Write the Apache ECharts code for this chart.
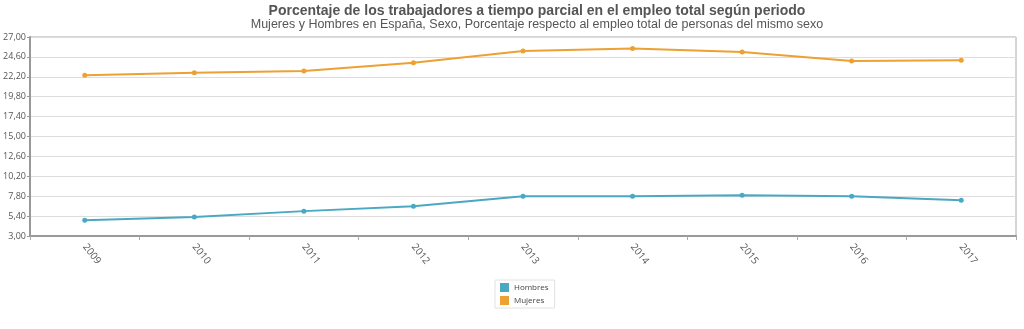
<!DOCTYPE html>
<html><head><meta charset="utf-8">
<script src="https://cdn.jsdelivr.net/npm/echarts@6/dist/echarts.min.js"></script>
<style>html,body{margin:0;padding:0;background:#fff}#c{width:1024px;height:329px}</style>
</head><body><div id="c"></div>
<script>
const categories = ['2009','2010','2011','2012','2013','2014','2015','2016','2017'];
const hombres = [4.9, 5.3, 6.0, 6.6, 7.8, 7.8, 7.9, 7.8, 7.3];
const mujeres = [22.4, 22.7, 22.9, 23.9, 25.3, 25.6, 25.2, 24.1, 24.2];
const seriesNames = ['Hombres', 'Mujeres'];
const titleText = 'Porcentaje de los trabajadores a tiempo parcial en el empleo total según periodo';
const subtitleText = 'Mujeres y Hombres en España, Sexo, Porcentaje respecto al empleo total de personas del mismo sexo';

const chart = echarts.init(document.getElementById('c'), null, {renderer:'canvas'});
chart.setOption({
  animation: false,
  color: ['#4aa9c2', '#eca132'],
  title: {
    text: titleText, subtext: subtitleText, left: 532, textAlign: 'center', top: -1, itemGap: 0,
    textStyle: {fontFamily: 'Liberation Sans, Arial', fontSize: 14, fontWeight: 'bold', color: '#555'},
    subtextStyle: {fontFamily: 'Liberation Sans, Arial', fontSize: 12.5, color: '#555'}
  },
  legend: {
    data: seriesNames, orient: 'vertical', left: 495, top: 280,
    itemWidth: 9, itemHeight: 9, itemGap: 4, icon: 'rect',
    borderColor: '#e2e2e2', borderWidth: 1, padding: [3, 6, 3, 5],
    textStyle: {fontFamily: 'Open Sans', fontSize: 8, color: '#444'}
  },
  grid: {left: 30, right: 8, top: 37, bottom: 93, show: true, borderColor: '#aaa', borderWidth: 1},
  xAxis: {
    type: 'category', data: categories, boundaryGap: true,
    axisLine: {lineStyle: {color: '#999', width: 2}},
    axisTick: {show: true, length: 4, lineStyle: {color: '#aaa'}},
    axisLabel: {rotate: -52, fontFamily: 'Open Sans', fontSize: 10, color: '#555', margin: 9}
  },
  yAxis: {
    type: 'value', min: 3, max: 27, interval: 2.4,
    axisLine: {show: true, lineStyle: {color: '#999', width: 2}},
    axisTick: {show: true, length: 3, lineStyle: {color: '#999'}},
    splitLine: {lineStyle: {color: '#ddd'}},
    axisLabel: {fontFamily: 'Open Sans', fontSize: 9, color: '#555', margin: 4,
      formatter: v => v.toFixed(2).replace('.', ',')}
  },
  series: [
    {name: seriesNames[0], type: 'line', data: hombres, symbol: 'circle', symbolSize: 5, lineStyle: {width: 2}},
    {name: seriesNames[1], type: 'line', data: mujeres, symbol: 'circle', symbolSize: 5, lineStyle: {width: 2}}
  ]
});
</script></body></html>
